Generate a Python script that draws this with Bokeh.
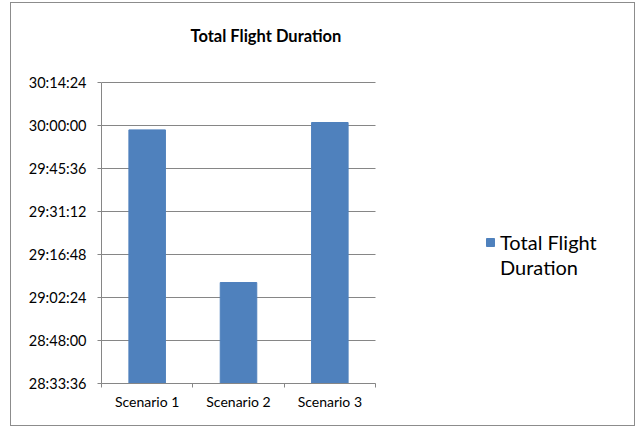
from bokeh.plotting import figure
from bokeh.models import ColumnDataSource, FixedTicker, Legend, LegendItem
from bokeh.embed import file_html
from bokeh.resources import INLINE

categories = ["Scenario 1", "Scenario 2", "Scenario 3"]
durations = ["29:58:32", "29:07:25", "30:01:00"]
y_tick_labels = ["28:33:36", "28:48:00", "29:02:24", "29:16:48",
                 "29:31:12", "29:45:36", "30:00:00", "30:14:24"]
legend_lines = ["Total Flight", "Duration"]
title_text = "Total Flight Duration"

FONT = "Lato"
GRAY = "#868686"
BLUE = "#4F81BD"

W, H = 625, 424
LEFT, FRAME_TOP, BOTTOM = 90, 50, 44
PLOT_W = 274   # width of the bar area in px
PLOT_H = 301   # height of the bar area in px


def to_sec(s):
    h, m, sec = (int(v) for v in s.split(":"))
    return h * 3600 + m * 60 + sec


yt = [to_sec(t) for t in y_tick_labels]
xs = [i + 0.5 for i in range(len(categories))]
vals = [to_sec(d) for d in durations]
n = len(categories)
src = ColumnDataSource(dict(x=xs, top=vals, cat=categories))

frame_w = W - LEFT
frame_h = H - BOTTOM - FRAME_TOP
y_end = yt[0] + (yt[-1] - yt[0]) * frame_h / PLOT_H

p = figure(width=W, height=H, output_backend="svg", toolbar_location=None,
           x_range=(0, n * frame_w / PLOT_W), y_range=(yt[0], y_end),
           min_border_left=LEFT, min_border_right=0, min_border_top=FRAME_TOP,
           min_border_bottom=BOTTOM)
p.styles = {"border": "1px solid #8c8c8c", "margin-left": "10px", "margin-top": "2px"}
p.outline_line_color = None
p.background_fill_color = "white"
p.border_fill_color = "white"

# horizontal gridlines across the bar area only
p.segment(x0=0, x1=n, y0=yt, y1=yt, line_color=GRAY, line_width=1)

r = p.vbar(x="x", top="top", bottom=yt[0], width=0.4, source=src,
           fill_color=BLUE, line_color=BLUE)
# second legend line (no visible glyph)
r2 = p.vbar(x=[], top=[], width=0.4, fill_alpha=0, line_alpha=0)

p.title.text = title_text
p.title.align = "left"
p.title.offset = 89
p.title.vertical_align = "bottom"
p.title.standoff = 16
p.title.text_font = FONT
p.title.text_font_size = "16.5px"
p.title.text_font_style = "bold"
p.title.text_color = "black"

p.xgrid.visible = False
p.ygrid.visible = False

ya = p.yaxis[0]
ya.bounds = (yt[0], yt[-1])
ya.ticker = FixedTicker(ticks=yt)
ya.major_label_overrides = {t: l for t, l in zip(yt, y_tick_labels)}
ya.major_tick_out = 4
ya.major_tick_in = 0
ya.minor_tick_line_color = None
ya.axis_line_color = GRAY
ya.major_tick_line_color = GRAY
ya.major_label_standoff = 11
ya.major_label_text_font = FONT
ya.major_label_text_font_size = "14.5px"
ya.major_label_text_color = "black"

xa = p.xaxis[0]
xa.bounds = (0, n)
xa.ticker = FixedTicker(ticks=xs, minor_ticks=list(range(n + 1)))
xa.major_label_overrides = {x: c for x, c in zip(xs, categories)}
xa.major_tick_line_color = None
xa.major_tick_out = 0
xa.major_tick_in = 0
xa.minor_tick_out = 4
xa.minor_tick_in = 0
xa.minor_tick_line_color = GRAY
xa.axis_line_color = GRAY
xa.major_label_standoff = 5
xa.major_label_text_font = FONT
xa.major_label_text_font_size = "14px"
xa.major_label_text_color = "black"

legend = Legend(items=[LegendItem(label=legend_lines[0], renderers=[r]),
                       LegendItem(label=legend_lines[1], renderers=[r2])],
                location=(384, 104), margin=0, padding=0, spacing=0,
                border_line_color=None, background_fill_alpha=0,
                glyph_width=10, glyph_height=10, label_height=25,
                label_standoff=5,
                label_text_font=FONT, label_text_font_size="20px",
                label_text_color="black")
p.add_layout(legend, "center")

open("out.html", "w").write(file_html(p, INLINE))
